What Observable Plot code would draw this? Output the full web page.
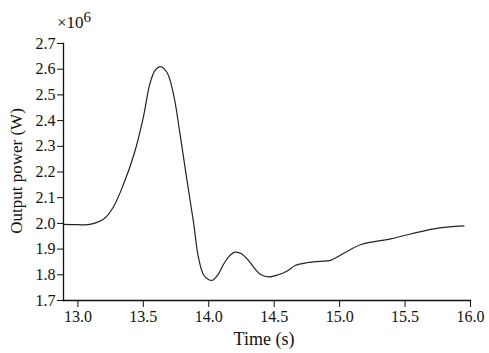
<!DOCTYPE html>
<html>
<head>
<meta charset="utf-8">
<script src="https://cdn.jsdelivr.net/npm/d3@7"></script>
<script src="https://cdn.jsdelivr.net/npm/@observablehq/plot@0.6"></script>
<style>
  html, body { margin: 0; padding: 0; background: #fff; }
  #chart svg { display: block; }
</style>
</head>
<body>
<div id="chart"></div>
<script>
// Time (s)
const time = [12.89, 13.0, 13.05, 13.1, 13.15, 13.2, 13.27, 13.35, 13.43, 13.5, 13.55, 13.59, 13.63, 13.68, 13.73, 13.78, 13.83, 13.885, 13.92, 13.96, 14.0, 14.03, 14.07, 14.11, 14.15, 14.2, 14.25, 14.3, 14.35, 14.4, 14.46, 14.53, 14.6, 14.66, 14.75, 14.9, 14.93, 15.16, 15.39, 15.72, 15.95];
// Output power (MW, i.e. ×10^6 W)
const powerMW = [1.996, 1.995, 1.994, 1.997, 2.005, 2.018, 2.063, 2.154, 2.271, 2.413, 2.543, 2.595, 2.61, 2.588, 2.504, 2.349, 2.18, 1.999, 1.87, 1.80, 1.781, 1.779, 1.80, 1.838, 1.869, 1.888, 1.882, 1.858, 1.825, 1.80, 1.792, 1.80, 1.815, 1.836, 1.847, 1.854, 1.856, 1.917, 1.94, 1.979, 1.99];
const xTicks = [13.0, 13.5, 14.0, 14.5, 15.0, 15.5, 16.0];
const yTicks = [1.7, 1.8, 1.9, 2.0, 2.1, 2.2, 2.3, 2.4, 2.5, 2.6, 2.7];

const data = time.map((t, i) => ({t, p: powerMW[i] * 1e6}));
const font = "'Liberation Serif', 'Times New Roman', serif";

const chart = Plot.plot({
  width: 489,
  height: 353,
  marginLeft: 63,
  marginRight: 19,
  marginTop: 43,
  marginBottom: 53,
  style: {fontFamily: font, fontSize: "16px", color: "#111", background: "#fff"},
  x: {domain: [12.89, 16.0]},
  y: {domain: [1.7e6, 2.7e6]},
  marks: [
    Plot.frame({anchor: "bottom", stroke: "#111", strokeWidth: 1.3}),
    Plot.frame({anchor: "left", stroke: "#111", strokeWidth: 1.3}),
    Plot.axisX({ticks: xTicks, tickSize: 7, tickPadding: 3, tickFormat: d => d.toFixed(1), label: null, stroke: "#111", fontSize: 16}),
    Plot.axisY({ticks: yTicks.map(v => v * 1e6), tickSize: 6, tickPadding: 2, tickFormat: d => (d / 1e6).toFixed(1), label: null, stroke: "#111", fontSize: 16}),
    Plot.line(data, {x: "t", y: "p", curve: "catmull-rom", stroke: "#222", strokeWidth: 1.2})
  ]
});

const svg = d3.select(chart);
svg.append("text")
  .attr("x", 264).attr("y", 345)
  .attr("text-anchor", "middle")
  .style("font-family", font).style("font-size", "18px").attr("fill", "#111")
  .text("Time (s)");
svg.append("text")
  .attr("transform", "translate(22,171) rotate(-90)")
  .attr("text-anchor", "middle")
  .style("font-family", font).style("font-size", "17px").attr("fill", "#111")
  .text("Output power (W)");
const mult = svg.append("text")
  .attr("x", 57).attr("y", 28)
  .attr("text-anchor", "start")
  .style("font-family", font).style("font-size", "17px").attr("fill", "#111");
mult.append("tspan").text("×10");
mult.append("tspan").attr("dy", -6).style("font-size", "15px").text("6");

document.getElementById("chart").appendChild(chart);
</script>
</body>
</html>
